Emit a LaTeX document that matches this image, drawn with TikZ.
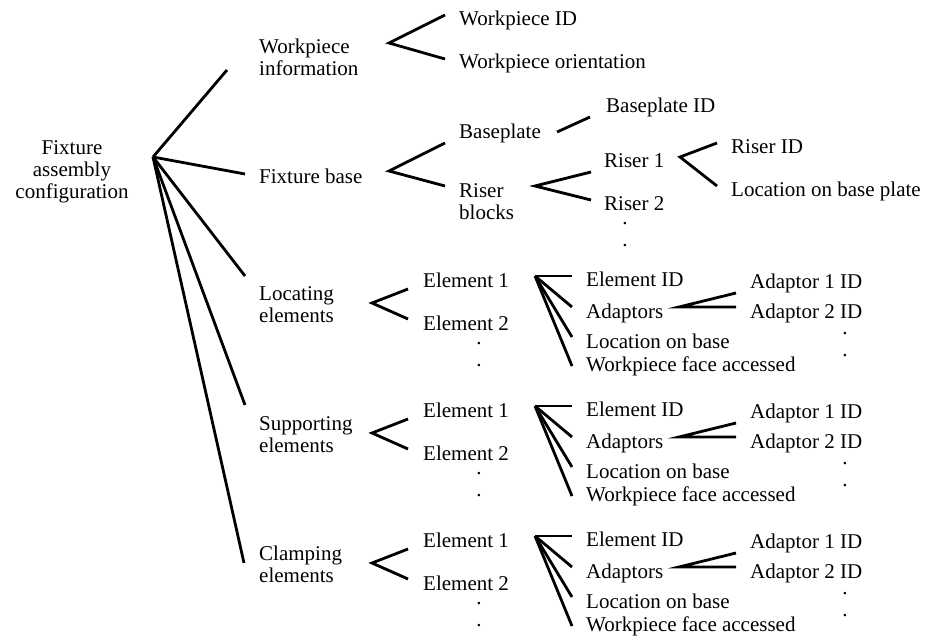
\documentclass[tikz,border=0pt]{standalone}
\usepackage{fontspec}
\setmainfont{Liberation Serif}
\begin{document}
\begin{tikzpicture}[x=1pt,y=-1pt,
  every node/.style={font=\fontsize{21}{22}\selectfont, inner sep=0pt},
  lbl/.style={anchor=west, align=left},
  dotmark/.style={anchor=base},
  branch/.style={line width=2.8pt}]
\useasboundingbox[fill=white] (0,0) rectangle (925,636);

% root and first level
\node[align=center] (root) at (72,171.5) {Fixture\\assembly\\configuration};
\coordinate (hub) at (153,157);
\node[lbl] (wi) at (259,57) {Workpiece\\information};
\node[lbl] (fb) at (259,176) {Fixture base};

% workpiece information
\node[lbl] (wid) at (459,20) {Workpiece ID};
\node[lbl] (wor) at (459,63) {Workpiece orientation};
\coordinate (wiv) at (389,43);
\draw[branch] ([shift={(-14,-5)}]wid.west) -- (wiv) -- ([shift={(-14,-4)}]wor.west);

% fixture base
\node[lbl] (bp) at (459,133) {Baseplate};
\node[lbl] (bpid) at (606,107) {Baseplate ID};
\node[lbl] (rb) at (459,201.5) {Riser\\blocks};
\node[lbl] (r1) at (604,161) {Riser 1};
\node[lbl] (r2) at (604,204) {Riser 2};
\node[dotmark] (rd1) at (625,225) {.};
\node[dotmark] (rd2) at (625,247) {.};
\node[lbl] (rid) at (731,147) {Riser ID};
\node[lbl] (lbp) at (731,191) {Location on base plate};
\coordinate (fbv) at (389,171);
\draw[branch] ([shift={(-14,10)}]bp.west) -- (fbv) -- ([shift={(-14,-15.5)}]rb.west);
\draw[branch] ([shift={(16,-1)}]bp.east) -- ([shift={(-16,10)}]bpid.west);
\coordinate (rbv) at (535,186);
\draw[branch] ([shift={(-13,11)}]r1.west) -- (rbv) -- ([shift={(-13,-4)}]r2.west);
\coordinate (r1v) at (680,157);
\draw[branch] ([shift={(-14,-4)}]rid.west) -- (r1v) -- ([shift={(-14,-5)}]lbp.west);

% element groups
\foreach \g/\dy/\name in {loc/0/Locating, sup/130/Supporting, cla/260/Clamping} {
  \node[lbl] (\g) at (259,304.5+\dy) {\name\\elements};
  \node[lbl] (\g-e1) at (423,280+\dy) {Element 1};
  \node[lbl] (\g-e2) at (423,323+\dy) {Element 2};
  \node[dotmark] (\g-d1) at (479,344+\dy) {.};
  \node[dotmark] (\g-d2) at (479,366+\dy) {.};
  \coordinate (\g-v) at (372,303+\dy);
  \draw[branch] ([shift={(-15,9)}]\g-e1.west) -- (\g-v) -- ([shift={(-15,-4)}]\g-e2.west);

  \node[lbl] (\g-eid) at (586,279+\dy) {Element ID};
  \node[lbl] (\g-ad) at (586,313+\dy) {Adaptors};
  \node[lbl] (\g-lob) at (586,341+\dy) {Location on base};
  \node[lbl] (\g-wfa) at (586,366+\dy) {Workpiece face accessed};
  \coordinate (\g-ev) at (535,276+\dy);
  \draw[branch] (\g-ev) -- ([shift={(-14,-3)}]\g-eid.west);
  \draw[branch] (\g-ev) -- ([shift={(-14,-6)}]\g-ad.west);
  \draw[branch] (\g-ev) -- ([shift={(-14,-4)}]\g-lob.west);
  \draw[branch] (\g-ev) -- ([shift={(-14,0)}]\g-wfa.west);

  \node[lbl] (\g-a1) at (750,283+\dy) {Adaptor 1 ID};
  \node[lbl] (\g-a2) at (750,313+\dy) {Adaptor 2 ID};
  \node[dotmark] (\g-ad1) at (845,334+\dy) {.};
  \node[dotmark] (\g-ad2) at (845,356+\dy) {.};
  \coordinate (\g-av) at (679,307+\dy);
  \draw[branch] ([shift={(-14,10)}]\g-a1.west) -- (\g-av) -- ([shift={(-14,-6)}]\g-a2.west);
}

% connectors from the root
\draw[branch] (hub) -- ([shift={(-32,13)}]wi.west);
\draw[branch] (hub) -- ([shift={(-14,-2)}]fb.west);
\draw[branch] (hub) -- ([shift={(-14,-28.5)}]loc.west);
\draw[branch] (hub) -- ([shift={(-14,-29.5)}]sup.west);
\draw[branch] (hub) -- ([shift={(-15,-1.5)}]cla.west);
\end{tikzpicture}
\end{document}
